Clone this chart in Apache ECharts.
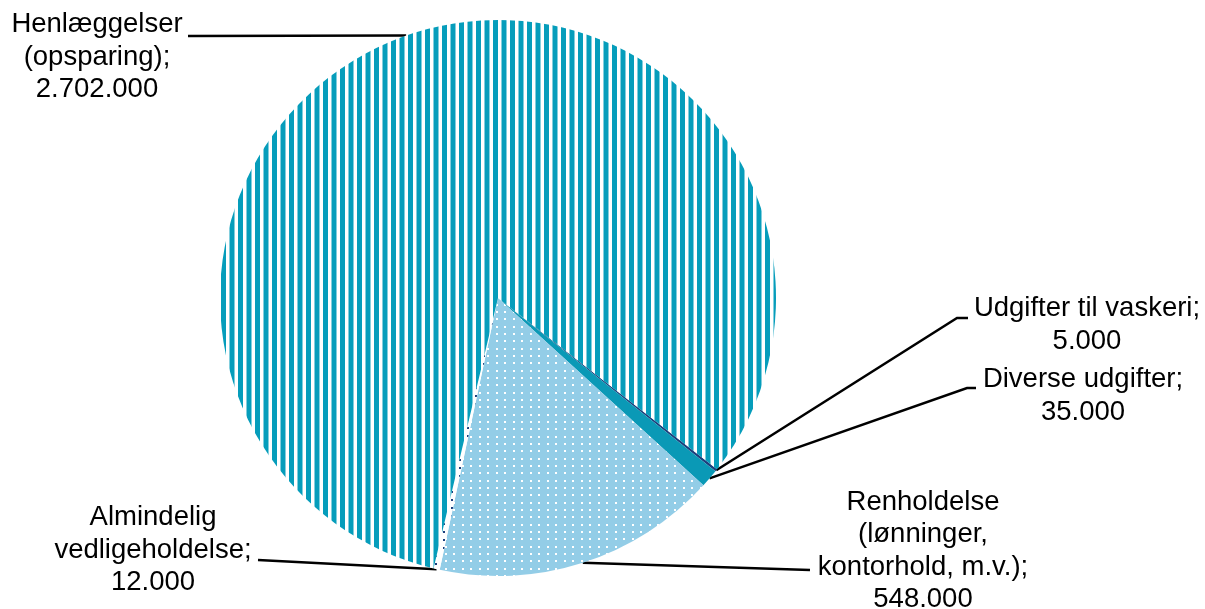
<!DOCTYPE html>
<html>
<head>
<meta charset="utf-8">
<script src="https://cdn.jsdelivr.net/npm/echarts@6/dist/echarts.min.js"></script>
<style>
    html, body { margin: 0; padding: 0; background: #fff; }
    #chart1 { width: 1205px; height: 609px; }
</style>
</head>
<body>
<div id="chart1"></div>
<script>
// data (clockwise from the lower right)
var categories = ['Udgifter til vaskeri', 'Diverse udgifter', 'Renholdelse\n(lønninger,\nkontorhold, m.v.)', 'Almindelig\nvedligeholdelse', 'Henlæggelser\n(opsparing)'];
var values = [5000, 35000, 548000, 12000, 2702000];

// label placement (text block centre) and leader line turn points
var labelPos = [[1087, 325], [1083, 396], [923, 551], [153, 550], [97, 57]];
var lineTurns = [[[957, 318], [968, 318]], [[967, 388], [976, 388]], [[810, 570]], [[258, 560]], [[188, 36]]];

function stripes() {
    //vertical teal stripes
    var c = document.createElement('canvas');
    c.width = 17; c.height = 4;
    var ctx = c.getContext('2d');
    ctx.fillStyle = '#fff';
    ctx.fillRect(0, 0, 17, 4);
    ctx.fillStyle = '#069dbb';
    ctx.fillRect(0, 0, 5, 4);
    ctx.fillRect(8.5, 0, 5, 4);
    return c;
}
function dots(bg, fg, w, h, pts, s) {
    var c = document.createElement('canvas');
    c.width = w; c.height = h;
    var ctx = c.getContext('2d');
    ctx.fillStyle = bg;
    ctx.fillRect(0, 0, w, h);
    ctx.fillStyle = fg;
    for (var i = 0; i < pts.length; i++) {
        ctx.fillRect(pts[i][0], pts[i][1], s, s);
    }
    return c;
}

var fills = [
    '#1d3f7c',
    '#0a99b6',
    { image: dots('#93cde7', '#ffffff', 17, 22, [[3, 3], [11, 3], [3, 10], [11, 10], [3, 18], [11, 18]], 2), repeat: 'repeat' },
    { image: dots('#ffffff', '#1d3f7c', 8, 8, [[3, 3]], 2), repeat: 'repeat' },
    { image: stripes(), repeat: 'repeat' }
];

function fmt(v) {
    return String(v).replace(/\B(?=(\d{3})+(?!\d))/g, '.');
}

var pieData = [];
for (var i = 0; i < values.length; i++) {
    pieData.push({ name: categories[i], value: values[i], itemStyle: { color: fills[i] } });
}

var Chart1 = echarts.init(document.getElementById('chart1'));

var option1 = {
    animation: false,
    backgroundColor: '#fff',
    series: [{
        type: 'pie',
        center: [498, 298],
        radius: 278,
        startAngle: 322,
        clockwise: true,
        avoidLabelOverlap: false,
        minShowLabelAngle: 0,
        itemStyle: { borderWidth: 0 },
        emphasis: { disabled: true },
        label: {
            show: true,
            position: 'outside',
            formatter: function (p) { return p.name + ';\n' + fmt(p.value); },
            fontFamily: 'Liberation Sans, Arial, sans-serif',
            fontSize: 27.5,
            lineHeight: 32.5,
            color: '#000',
            align: 'center'
        },
        labelLine: {
            show: true,
            length: 20,
            length2: 20,
            lineStyle: { color: '#000', width: 2.5 }
        },
        labelLayout: function (params) {
            var i = params.dataIndex;
            var pts = [params.labelLinePoints[0]].concat(lineTurns[i]);
            return {
                x: labelPos[i][0],
                y: labelPos[i][1],
                align: 'center',
                verticalAlign: 'middle',
                labelLinePoints: pts
            };
        },
        data: pieData
    }]
};

Chart1.setOption(option1);
</script>
</body>
</html>
